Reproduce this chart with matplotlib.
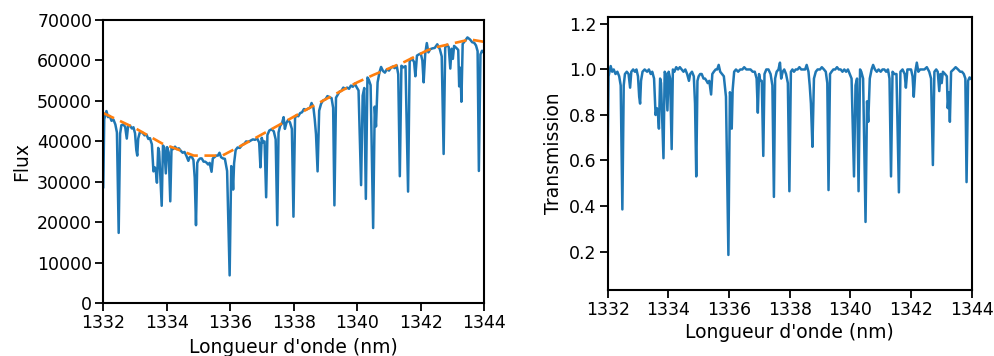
import matplotlib
matplotlib.use("Agg")
from matplotlib import pyplot as plt

# wavelength samples (nm)
wavelength = [
    1332.00, 1332.03, 1332.06, 1332.10, 1332.15, 1332.20, 1332.26, 1332.32, 1332.38, 1332.43,
    1332.485, 1332.53, 1332.57, 1332.63, 1332.69, 1332.74, 1332.78, 1332.84, 1332.90, 1332.95,
    1333.00, 1333.04, 1333.07, 1333.10, 1333.15, 1333.22, 1333.30, 1333.36, 1333.42, 1333.47,
    1333.53, 1333.58, 1333.62, 1333.65, 1333.69, 1333.73, 1333.76, 1333.84, 1333.88, 1333.92,
    1333.97, 1334.01, 1334.06, 1334.11, 1334.15, 1334.20, 1334.26, 1334.32, 1334.38, 1334.44,
    1334.50, 1334.56, 1334.62, 1334.68, 1334.72, 1334.78, 1334.84, 1334.88, 1334.92, 1334.96,
    1335.00, 1335.05, 1335.10, 1335.16, 1335.21, 1335.26, 1335.30, 1335.35, 1335.41, 1335.45,
    1335.50, 1335.56, 1335.61, 1335.66, 1335.71, 1335.77, 1335.83, 1335.90, 1335.98, 1336.03,
    1336.06, 1336.09, 1336.12, 1336.17, 1336.23, 1336.30, 1336.37, 1336.44, 1336.50, 1336.57,
    1336.64, 1336.71, 1336.78, 1336.85, 1336.91, 1336.95, 1336.99, 1337.03, 1337.08, 1337.13,
    1337.17, 1337.23, 1337.30, 1337.37, 1337.43, 1337.48, 1337.52, 1337.57, 1337.63, 1337.68,
    1337.72, 1337.77, 1337.82, 1337.88, 1337.94, 1337.99, 1338.04, 1338.09, 1338.14, 1338.20,
    1338.26, 1338.32, 1338.38, 1338.45, 1338.51, 1338.56, 1338.62, 1338.66, 1338.70, 1338.75,
    1338.80, 1338.86, 1338.92, 1339.00, 1339.06, 1339.13, 1339.19, 1339.24, 1339.28, 1339.33,
    1339.38, 1339.44, 1339.50, 1339.56, 1339.62, 1339.68, 1339.74, 1339.80, 1339.86, 1339.92,
    1339.98, 1340.04, 1340.12, 1340.17, 1340.22, 1340.27, 1340.32, 1340.36, 1340.42, 1340.50,
    1340.55, 1340.59, 1340.64, 1340.70, 1340.75, 1340.81, 1340.87, 1340.93, 1341.00, 1341.06,
    1341.12, 1341.18, 1341.24, 1341.29, 1341.34, 1341.39, 1341.45, 1341.52, 1341.60, 1341.65,
    1341.72, 1341.79, 1341.83, 1341.88, 1341.94, 1342.00, 1342.05, 1342.09, 1342.14, 1342.19,
    1342.24, 1342.30, 1342.37, 1342.44, 1342.52, 1342.60, 1342.66, 1342.72, 1342.77, 1342.83,
    1342.88, 1342.93, 1342.97, 1343.01, 1343.05, 1343.12, 1343.18, 1343.21, 1343.25, 1343.28,
    1343.32, 1343.40, 1343.47, 1343.55, 1343.62, 1343.68, 1343.74, 1343.79, 1343.83, 1343.88,
    1343.93, 1343.97,
]

# measured flux at those wavelengths
flux = [
    28700, 45500, 46300, 47500, 46000, 46300, 45100, 45400, 44200, 42200,
    17400, 41900, 44000, 44200, 43600, 40700, 43700, 43900, 43200, 43500,
    42000, 37900, 36500, 40700, 42200, 42300, 41500, 41700, 40600, 40800,
    39300, 32600, 33600, 33100, 29800, 38400, 37500, 24100, 39000, 38500,
    32100, 38600, 37300, 25200, 38600, 38100, 38700, 38100, 38300, 37700,
    37200, 37400, 36400, 35200, 36100, 36300, 35400, 31000, 19300, 34700,
    35400, 35800, 35800, 35000, 35000, 34700, 34300, 34700, 32500, 35800,
    36100, 36500, 36500, 37200, 36100, 35800, 35700, 32700, 6900, 33900,
    33200, 28100, 34600, 37900, 38500, 38400, 39100, 39400, 40000, 39900,
    40200, 40500, 40400, 40700, 39700, 33600, 40900, 39800, 40000, 26200,
    41600, 42700, 43000, 42500, 40500, 19300, 42200, 43800, 44500, 46000,
    43100, 44600, 45300, 44700, 43100, 21400, 45800, 46500, 46200, 47000,
    47200, 48000, 47800, 48100, 48300, 49500, 48300, 45500, 41800, 32600,
    47600, 49300, 50100, 50400, 51200, 50900, 50700, 48300, 24200, 50800,
    51500, 52300, 52500, 53300, 53000, 53300, 53000, 53800, 53500, 54300,
    53400, 52600, 29200, 51300, 53200, 25800, 55800, 55300, 53900, 18600,
    48600, 43700, 54600, 57100, 58400, 57400, 57000, 57800, 57500, 58200,
    58500, 58100, 58800, 56600, 31400, 58700, 58300, 58600, 27600, 59700,
    60600, 59600, 56100, 61200, 61500, 61700, 60000, 54600, 61600, 64300,
    62000, 62800, 63000, 63100, 64000, 62800, 61000, 36900, 63200, 63900,
    63300, 58000, 62900, 60400, 63600, 63100, 62600, 53600, 58200, 49800,
    64100, 64900, 65700, 65200, 64500, 64400, 63700, 62300, 32700, 61500,
    62400, 62100,
]

# telluric transmission at those wavelengths
transmission = [
    0.61, 0.97, 0.99, 1.015, 0.99, 1.00, 0.98, 0.99, 0.97, 0.93,
    0.385, 0.93, 0.98, 0.99, 0.98, 0.92, 0.99, 1.00, 0.99, 1.00,
    0.97, 0.88, 0.85, 0.95, 0.99, 1.00, 0.99, 1.00, 0.98, 0.99,
    0.96, 0.80, 0.83, 0.82, 0.74, 0.96, 0.94, 0.61, 0.99, 0.98,
    0.82, 0.99, 0.96, 0.65, 1.00, 0.99, 1.01, 1.00, 1.01, 1.00,
    0.99, 1.00, 0.98, 0.95, 0.98, 0.99, 0.97, 0.85, 0.53, 0.95,
    0.97, 0.98, 0.98, 0.96, 0.96, 0.95, 0.94, 0.95, 0.89, 0.98,
    0.99, 1.00, 1.00, 1.02, 0.99, 0.98, 0.97, 0.88, 0.185, 0.90,
    0.88, 0.74, 0.91, 0.99, 1.00, 0.99, 1.00, 1.00, 1.01, 1.00,
    1.00, 1.00, 0.99, 0.99, 0.96, 0.81, 0.98, 0.95, 0.95, 0.62,
    0.98, 1.00, 1.00, 0.98, 0.93, 0.44, 0.96, 0.99, 1.00, 1.03,
    0.96, 0.99, 1.00, 0.98, 0.94, 0.465, 0.99, 1.00, 0.99, 1.00,
    1.00, 1.01, 1.00, 1.00, 1.00, 1.02, 0.99, 0.93, 0.85, 0.66,
    0.96, 0.99, 1.00, 1.00, 1.01, 1.00, 0.99, 0.94, 0.47, 0.98,
    0.99, 1.00, 1.00, 1.01, 1.00, 1.00, 0.99, 1.00, 0.99, 1.00,
    0.98, 0.96, 0.53, 0.93, 0.96, 0.465, 1.00, 0.99, 0.96, 0.33,
    0.86, 0.77, 0.96, 1.00, 1.02, 1.00, 0.99, 1.00, 0.99, 1.00,
    1.00, 0.99, 1.00, 0.96, 0.53, 0.99, 0.98, 0.98, 0.46, 0.99,
    1.00, 0.98, 0.92, 1.00, 1.00, 1.00, 0.97, 0.88, 0.99, 1.03,
    0.99, 1.00, 1.00, 1.00, 1.01, 0.99, 0.96, 0.58, 0.99, 1.00,
    0.99, 0.905, 0.98, 0.94, 0.99, 0.98, 0.97, 0.83, 0.90, 0.77,
    0.99, 1.00, 1.01, 1.00, 0.99, 0.99, 0.98, 0.96, 0.505, 0.95,
    0.965, 0.96,
]

# continuum fit (orange dashed line)
cont_wl = [1332.0, 1333.0, 1333.85, 1334.85, 1335.75, 1336.5, 1337.5, 1338.5,
           1339.5, 1340.0, 1340.5, 1341.5, 1342.2, 1342.5, 1343.0, 1343.55, 1344.0]
cont_flux = [47000, 43300, 39500, 36500, 36500, 39600, 43900, 48300,
             52500, 54600, 56400, 59700, 62500, 63300, 64200, 65200, 64600]

plt.rcParams['font.size'] = 13.5
plt.rcParams['xtick.labelsize'] = 12.5
plt.rcParams['ytick.labelsize'] = 12.5
plt.rcParams['axes.linewidth'] = 1.5

fig = plt.figure(figsize=(9.95, 3.56), dpi=100)
ax1 = fig.add_axes((0.1038, 0.148, 0.3829, 0.7958))
ax2 = fig.add_axes((0.6107, 0.1854, 0.3659, 0.7678))

# flux + continuum
ax1.plot(wavelength, flux, color='#1f77b4', lw=1.8)
ax1.plot(cont_wl, cont_flux, color='#ff7f0e', lw=1.9, ls=(0, (4.5, 2.5)))
ax1.set_xlim(1332, 1344)
ax1.set_ylim(0, 70000)
ax1.set_xticks([1332, 1334, 1336, 1338, 1340, 1342, 1344])
ax1.set_yticks(range(0, 70001, 10000))
ax1.set_xlabel("Longueur d'onde (nm)", labelpad=4)
ax1.set_ylabel("Flux", labelpad=4)

# transmission
ax2.plot(wavelength, transmission, color='#1f77b4', lw=1.8)
ax2.set_xlim(1332, 1344)
ax2.set_ylim(0.031, 1.232)
ax2.set_xticks([1332, 1334, 1336, 1338, 1340, 1342, 1344])
ax2.set_yticks([0.2, 0.4, 0.6, 0.8, 1.0, 1.2])
ax2.set_xlabel("Longueur d'onde (nm)", labelpad=3)
ax2.set_ylabel("Transmission", labelpad=4)

for ax in (ax1, ax2):
    ax.tick_params(direction='out', length=6, width=1.3, pad=2)

fig.savefig("out.png", dpi=100)
